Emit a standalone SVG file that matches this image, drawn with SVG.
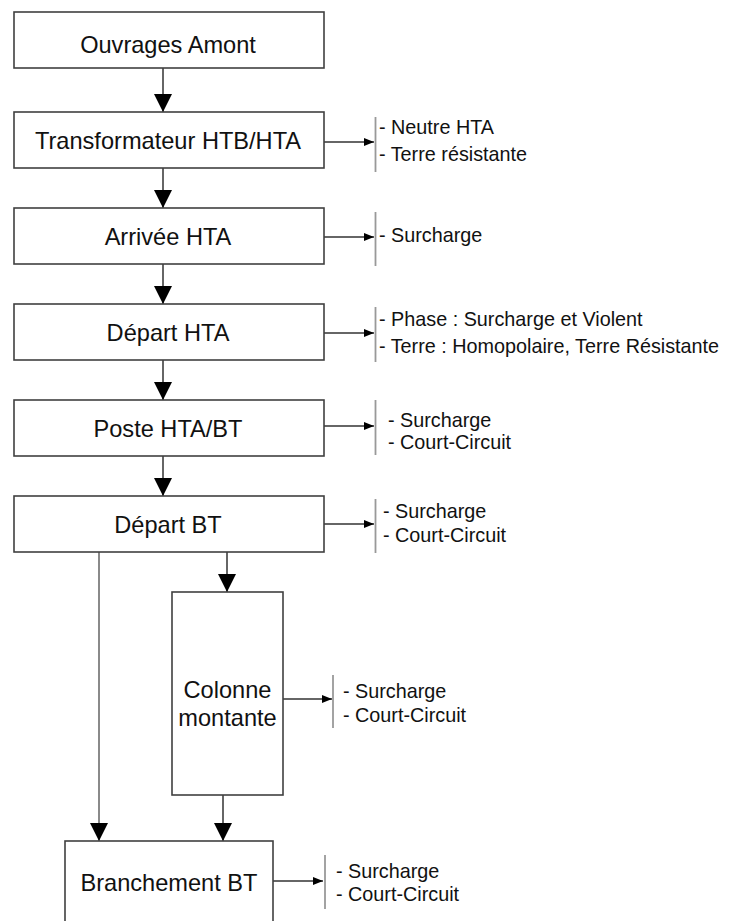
<svg xmlns="http://www.w3.org/2000/svg" width="730" height="921" viewBox="0 0 730 921">
<defs>
<style>
.box{fill:#fff;stroke:#404040;stroke-width:1.6}
.t{font-family:"Liberation Sans",Arial,sans-serif;font-size:23.6px;fill:#111;text-anchor:middle}
.s{font-family:"Liberation Sans",Arial,sans-serif;font-size:19.8px;fill:#111}
.ln{stroke:#333;stroke-width:1.5;fill:none}
.gl{stroke:#8a8a8a;stroke-width:2;fill:none}
.bar{stroke:#999;stroke-width:1.8}
</style>
<marker id="big" markerUnits="userSpaceOnUse" markerWidth="18" markerHeight="18" refX="18" refY="9" orient="auto"><path d="M0,0 L18,9 L0,18 z" fill="#000"/></marker>
<marker id="sm" markerUnits="userSpaceOnUse" markerWidth="10" markerHeight="8" refX="10" refY="4" orient="auto"><path d="M0,0 L10,4 L0,8 z" fill="#000"/></marker>
</defs>
<rect width="730" height="921" fill="#fff"/>
<g id="connectors">
<line class="ln" x1="163" y1="68" x2="163" y2="112" marker-end="url(#big)"/>
<line class="ln" x1="163" y1="168" x2="163" y2="208" marker-end="url(#big)"/>
<line class="ln" x1="163" y1="264" x2="163" y2="304" marker-end="url(#big)"/>
<line class="ln" x1="163" y1="360" x2="163" y2="400" marker-end="url(#big)"/>
<line class="ln" x1="163" y1="456" x2="163" y2="496" marker-end="url(#big)"/>
<line class="ln" x1="227" y1="552" x2="227" y2="592" marker-end="url(#big)"/>
<line class="gl" x1="99" y1="552" x2="99" y2="841" marker-end="url(#big)"/>
<line class="ln" x1="223" y1="795" x2="223" y2="841" marker-end="url(#big)"/>
<line class="ln" x1="324" y1="142" x2="374" y2="142" marker-end="url(#sm)"/>
<line class="ln" x1="324" y1="237" x2="374" y2="237" marker-end="url(#sm)"/>
<line class="ln" x1="324" y1="333" x2="374" y2="333" marker-end="url(#sm)"/>
<line class="ln" x1="324" y1="426" x2="374" y2="426" marker-end="url(#sm)"/>
<line class="ln" x1="324" y1="524" x2="374" y2="524" marker-end="url(#sm)"/>
<line class="ln" x1="282" y1="699" x2="332" y2="699" marker-end="url(#sm)"/>
<line class="ln" x1="273" y1="881" x2="323" y2="881" marker-end="url(#sm)"/>
<line class="bar" x1="375.5" y1="117" x2="375.5" y2="172"/>
<line class="bar" x1="375.5" y1="212" x2="375.5" y2="266"/>
<line class="bar" x1="375.5" y1="307" x2="375.5" y2="362"/>
<line class="bar" x1="375.5" y1="400" x2="375.5" y2="455"/>
<line class="bar" x1="375.5" y1="499" x2="375.5" y2="553"/>
<line class="bar" x1="333" y1="675" x2="333" y2="728"/>
<line class="bar" x1="325" y1="855" x2="325" y2="909"/>
</g>
<g id="n1"><rect class="box" x="14" y="12" width="310" height="56"/><text class="t" x="168" y="53">Ouvrages Amont</text></g>
<g id="n2"><rect class="box" x="14" y="112" width="310" height="56"/><text class="t" x="168" y="149">Transformateur HTB/HTA</text></g>
<g id="n3"><rect class="box" x="14" y="208" width="310" height="56"/><text class="t" x="168" y="245">Arrivée HTA</text></g>
<g id="n4"><rect class="box" x="14" y="304" width="310" height="56"/><text class="t" x="168" y="341">Départ HTA</text></g>
<g id="n5"><rect class="box" x="14" y="400" width="310" height="56"/><text class="t" x="168" y="437">Poste HTA/BT</text></g>
<g id="n6"><rect class="box" x="14" y="496" width="310" height="56"/><text class="t" x="168" y="533">Départ BT</text></g>
<g id="n7"><rect class="box" x="172" y="592" width="111" height="203"/><text class="t" x="227.5" y="698">Colonne</text><text class="t" x="227.5" y="726">montante</text></g>
<g id="n8"><rect class="box" x="65" y="841" width="208" height="95"/><text class="t" x="169" y="891">Branchement BT</text></g>
<g id="l2"><text class="s" x="379" y="134">- Neutre HTA</text><text class="s" x="379" y="161">- Terre résistante</text></g>
<g id="l3"><text class="s" x="379" y="242">- Surcharge</text></g>
<g id="l4"><text class="s" x="379" y="326">- Phase : Surcharge et Violent</text><text class="s" x="379" y="353">- Terre : Homopolaire, Terre Résistante</text></g>
<g id="l5"><text class="s" x="388" y="427">- Surcharge</text><text class="s" x="388" y="449">- Court-Circuit</text></g>
<g id="l6"><text class="s" x="383" y="518">- Surcharge</text><text class="s" x="383" y="542">- Court-Circuit</text></g>
<g id="l7"><text class="s" x="343" y="698">- Surcharge</text><text class="s" x="343" y="722">- Court-Circuit</text></g>
<g id="l8"><text class="s" x="336" y="878">- Surcharge</text><text class="s" x="336" y="901">- Court-Circuit</text></g>
</svg>
